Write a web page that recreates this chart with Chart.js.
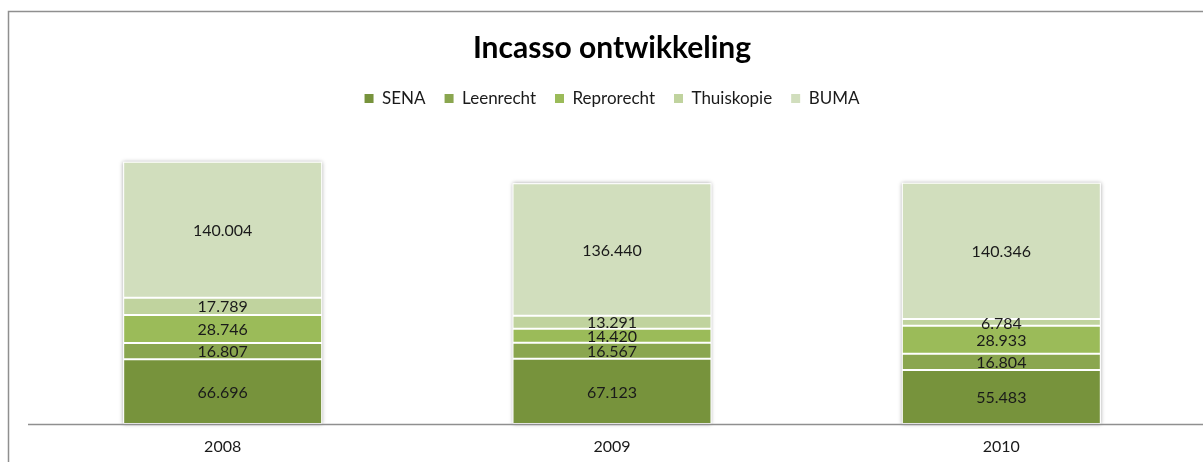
<!DOCTYPE html>
<html>
<head>
<meta charset="utf-8">
<script src="https://cdn.jsdelivr.net/npm/chart.js@4/dist/chart.umd.min.js"></script>
<style>
  html, body { margin: 0; padding: 0; background: #fff; }
  #wrap { width: 1203px; height: 462px; position: relative; }
</style>
</head>
<body>
<div id="wrap"><canvas id="chart"></canvas></div>
<script>
// data (shown with Dutch thousand dots: 66.696 = 66696)
const years = ['2008', '2009', '2010'];
const sena = [66696, 67123, 55483];
const leenrecht = [16807, 16567, 16804];
const reprorecht = [28746, 14420, 28933];
const thuiskopie = [17789, 13291, 6784];
const buma = [140004, 136440, 140346];

const colors = {
    sena: '#77933C',
    leenrecht: '#8AA64F',
    reprorecht: '#9BBB59',
    thuiskopie: '#C0D39E',
    buma: '#D1DEBD'
};

const fmt = (v) => String(v).replace(/\B(?=(\d{3})+(?!\d))/g, '.');

// frame lines + baseline, like the original office chart
const framePlugin = {
    id: 'frame',
    beforeDraw(chart) {
        const ctx = chart.ctx;
        ctx.save();
        ctx.strokeStyle = '#8f8f8f';
        ctx.lineWidth = 1.5;
        ctx.beginPath();
        ctx.moveTo(8.5, chart.height);
        ctx.lineTo(8.5, 11.5);
        ctx.lineTo(chart.width, 11.5);
        ctx.stroke();
        ctx.restore();
    },
    beforeDatasetsDraw(chart) {
        // soft shadow behind every stacked column
        const ctx = chart.ctx;
        const n = chart.data.datasets.length;
        const first = chart.getDatasetMeta(0).data;
        const last = chart.getDatasetMeta(n - 1).data;
        ctx.save();
        ctx.shadowColor = 'rgba(0,0,0,0.35)';
        ctx.shadowBlur = 4;
        ctx.shadowOffsetX = 0;
        ctx.shadowOffsetY = 0;
        ctx.fillStyle = '#ffffff';
        first.forEach((bar, j) => {
            const w = bar.width;
            const top = last[j].y;
            ctx.fillRect(bar.x - w / 2, top, w, bar.base - top);
        });
        ctx.restore();
    },
    afterDatasetsDraw(chart) {
        const ctx = chart.ctx;
        const y = Math.round(chart.scales.y.getPixelForValue(0)) + 0.5;
        ctx.save();
        ctx.strokeStyle = '#8f8f8f';
        ctx.lineWidth = 1.5;
        ctx.beginPath();
        ctx.moveTo(28, y);
        ctx.lineTo(chart.width, y);
        ctx.stroke();
        ctx.restore();
    }
};

// value labels in the middle of each segment
const valueLabels = {
    id: 'valueLabels',
    afterDatasetsDraw(chart) {
        const ctx = chart.ctx;
        ctx.save();
        ctx.font = '16px Lato';
        ctx.fillStyle = '#1a1a1a';
        ctx.textAlign = 'center';
        ctx.textBaseline = 'middle';
        chart.data.datasets.forEach((ds, i) => {
            const meta = chart.getDatasetMeta(i);
            meta.data.forEach((bar, j) => {
                const y = (bar.y + bar.base) / 2;
                ctx.fillText(fmt(ds.data[j]), bar.x, y + 1);
            });
        });
        ctx.restore();
    }
};

const mkSet = (label, data, color) => ({
    label: label,
    data: data,
    backgroundColor: color,
    borderColor: '#ffffff',
    borderWidth: 1,
    borderSkipped: false
});

new Chart(document.getElementById('chart'), {
    type: 'bar',
    data: {
        labels: years,
        datasets: [
            mkSet('SENA', sena, colors.sena),
            mkSet('Leenrecht', leenrecht, colors.leenrecht),
            mkSet('Reprorecht', reprorecht, colors.reprorecht),
            mkSet('Thuiskopie', thuiskopie, colors.thuiskopie),
            mkSet('BUMA', buma, colors.buma)
        ]
    },
    options: {
        responsive: true,
        maintainAspectRatio: false,
        animation: false,
        datasets: {
            bar: { categoryPercentage: 1, barPercentage: 0.511 }
        },
        layout: {
            padding: { top: 11, left: 28, right: 7, bottom: 0 }
        },
        plugins: {
            title: {
                display: true,
                text: 'Incasso ontwikkeling',
                color: '#000',
                font: { family: 'Lato', size: 30, weight: 'bold' },
                padding: { top: 19, bottom: 5 }
            },
            legend: {
                display: true,
                position: 'top',
                labels: {
                    color: '#1a1a1a',
                    font: { family: 'Lato', size: 17 },
                    boxWidth: 9,
                    boxHeight: 9,
                    padding: 19,
                    generateLabels(chart) {
                        const items = Chart.defaults.plugins.legend.labels.generateLabels(chart);
                        items.forEach(it => { it.strokeStyle = it.fillStyle; it.lineWidth = 0; });
                        return items;
                    }
                }
            },
            tooltip: { enabled: false }
        },
        scales: {
            x: {
                stacked: true,
                grid: { display: false, drawTicks: false },
                border: { display: false },
                ticks: {
                    color: '#1a1a1a',
                    font: { family: 'Lato', size: 16 },
                    padding: 13
                },
                afterFit(scale) { scale.height = 38; }
            },
            y: {
                stacked: true,
                display: false,
                min: 0,
                max: 316000
            }
        }
    },
    plugins: [framePlugin, valueLabels]
});
</script>
</body>
</html>
